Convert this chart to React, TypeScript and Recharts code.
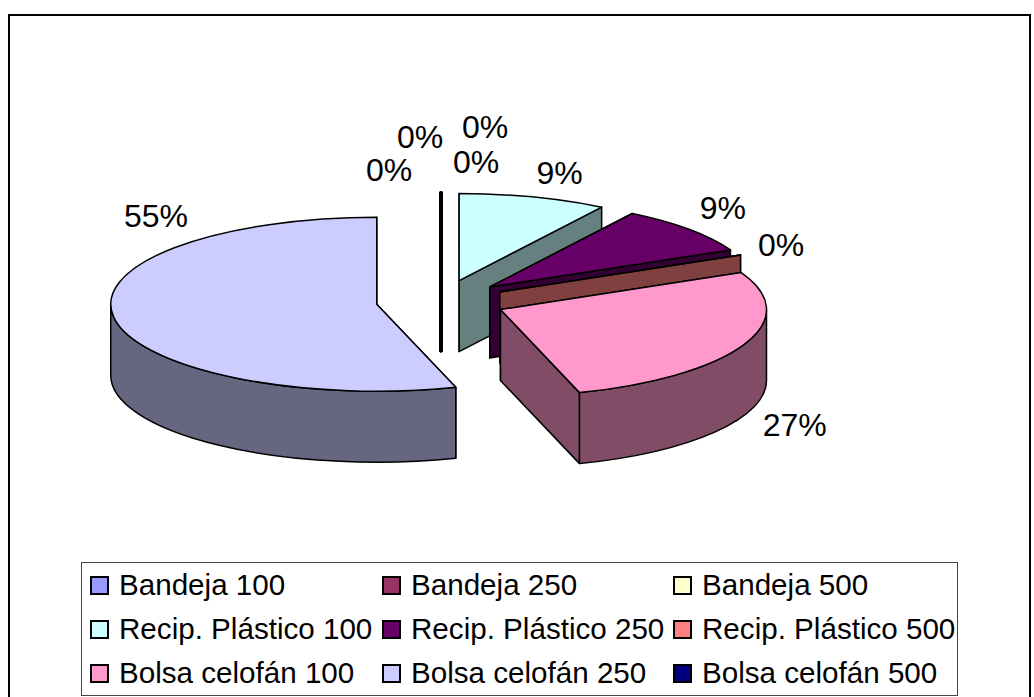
import React from 'react';
import { PieChart, Pie, Legend } from 'recharts';

const names = [
  'Bandeja 100', 'Bandeja 250', 'Bandeja 500',
  'Recip. Plástico 100', 'Recip. Plástico 250', 'Recip. Plástico 500',
  'Bolsa celofán 100', 'Bolsa celofán 250', 'Bolsa celofán 500',
];
const values = [0, 0, 0, 9, 9, 0, 27.2, 54.8, 0];
const fills = [
  '#9999FF', '#993366', '#FFFFCC',
  '#CCFFFF', '#660066', '#FF8080',
  '#FF99CC', '#CCCCFF', '#000080',
];
const sides = [
  '#4C4C80', '#4C1933', '#808066',
  '#668080', '#330033', '#804040',
  '#804C66', '#666680', '#000040',
];
// nudges for the labels, excel placed them by hand-ish rules
const labelDx = [-52, -21, 44, 19, 14, 17, 27, 68, 35];
const labelDy = [15, -18, -28, 12, 4, 6, 65, -107, 7];

const tableData = names.map((name, i) => ({ name, value: values[i], fill: fills[i], side: sides[i] }));

const SQUASH = 0.327;
const DEPTH = 71;
const EXPLODE = 65;
const FONT = 'Liberation Sans, Arial, sans-serif';

const rad = (d: number) => (d * Math.PI) / 180;

// 3d look: flatten the sector the chart hands over and pull it out along its middle angle
const Slice3D = (props: any) => {
  const { cx, cy, outerRadius: r, startAngle, endAngle, fill, side } = props;
  const mid = rad((startAngle + endAngle) / 2);
  const ox = cx + EXPLODE * Math.cos(mid);
  const oy = cy - EXPLODE * SQUASH * Math.sin(mid);
  const pt = (a: number, drop = 0) => [
    ox + r * Math.cos(rad(a)),
    oy - r * SQUASH * Math.sin(rad(a)) + drop,
  ];
  const [sx, sy] = pt(startAngle);
  const [ex, ey] = pt(endAngle);
  const ry = r * SQUASH;
  const stroke = { stroke: '#000', strokeWidth: startAngle === endAngle && Math.abs(Math.cos(rad(startAngle))) < 0.01 ? 3 : 1.5, strokeLinejoin: 'round' as const };

  const wall = (x: number, y: number) =>
    `M${ox},${oy}L${x},${y}L${x},${y + DEPTH}L${ox},${oy + DEPTH}Z`;

  // outer wall only where the rim faces the viewer (180..360 in chart degrees)
  const a1 = Math.max(endAngle, -180);
  const a2 = Math.min(startAngle, 0);
  let rim = null;
  if (a2 > a1) {
    const [x1, y1] = pt(a2);
    const [x2, y2] = pt(a1);
    rim = `M${x1},${y1}A${r},${ry} 0 0 1 ${x2},${y2}L${x2},${y2 + DEPTH}A${r},${ry} 0 0 0 ${x1},${y1 + DEPTH}Z`;
  }
  const large = startAngle - endAngle > 180 ? 1 : 0;
  const top = `M${ox},${oy}L${sx},${sy}A${r},${ry} 0 ${large} 1 ${ex},${ey}Z`;

  return (
    <g>
      <path d={wall(sx, sy)} fill={side} {...stroke} />
      <path d={wall(ex, ey)} fill={side} {...stroke} />
      {rim && <path d={rim} fill={side} {...stroke} />}
      <path d={top} fill={fill} {...stroke} />
    </g>
  );
};

const sliceLabel = (props: any) => {
  const { cx, cy, outerRadius: r, midAngle, percent, index } = props;
  const m = rad(midAngle);
  const x = cx + (EXPLODE + r + 26) * Math.cos(m) + labelDx[index];
  const y = cy - (EXPLODE + r + 26) * SQUASH * 1.25 * Math.sin(m) + labelDy[index];
  return (
    <text x={x} y={y} textAnchor="middle" dominantBaseline="central" fontSize={32} fontFamily={FONT} fill="#000">
      {Math.round(percent * 100)}%
    </text>
  );
};

const LegendBox = ({ payload }: any) => (
  <div
    style={{
      display: 'grid',
      gridTemplateColumns: '292px 291px 270px',
      gridAutoRows: '44px',
      alignItems: 'center',
      boxSizing: 'border-box',
      width: 877,
      height: 134,
      padding: '0 0 0 8px',
      border: '1px solid #444',
      background: '#fff',
      fontFamily: FONT,
      fontSize: 29.6,
      color: '#000',
    }}
  >
    {(payload || []).map((p: any) => (
      <div key={p.value} style={{ display: 'flex', alignItems: 'center', whiteSpace: 'nowrap' }}>
        <span
          style={{
            display: 'inline-block',
            flex: 'none',
            width: 19,
            height: 19,
            marginRight: 10,
            border: '2px solid #000',
            boxSizing: 'border-box',
            background: p.color,
          }}
        />
        {p.value}
      </div>
    ))}
  </div>
);

export default function App() {
  return (
    <div style={{ position: 'absolute', left: 8, top: 14, width: 1023, height: 690, boxSizing: 'border-box', border: '2px solid #000', overflow: 'hidden', background: '#fff' }}>
      <PieChart width={1019} height={686} margin={{ top: 0, right: 0, bottom: 0, left: 0 }}>
        <Pie
          data={tableData}
          dataKey="value"
          nameKey="name"
          cx={431}
          cy={285}
          outerRadius={266}
          startAngle={90}
          endAngle={-270}
          stroke="none"
          shape={Slice3D}
          label={sliceLabel}
          labelLine={false}
          isAnimationActive={false}
        />
        <Legend
          itemSorter={null}
          content={LegendBox}
          wrapperStyle={{ left: 71, top: 546, width: 877, bottom: 'auto', right: 'auto' }}
        />
      </PieChart>
    </div>
  );
}
